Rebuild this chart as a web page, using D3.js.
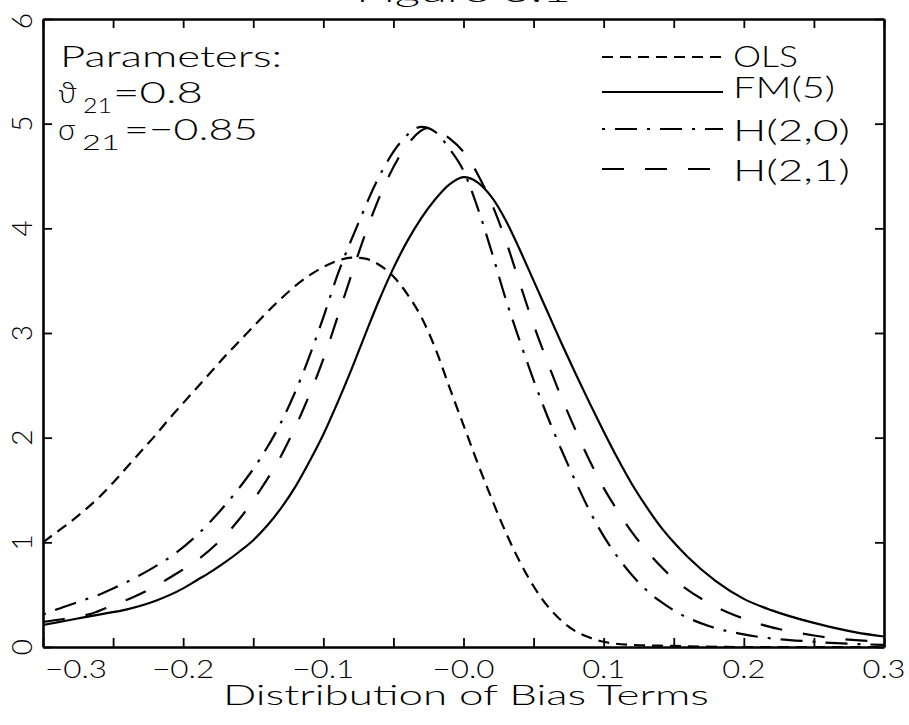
<!DOCTYPE html>
<html>
<head>
<meta charset="utf-8">
<script src="https://cdn.jsdelivr.net/npm/d3@7"></script>
<style>
  body { margin: 0; background: #fff; }
  svg { display: block; background: #fff; }
  text { font-family: "Lato", "Liberation Sans", "DejaVu Sans", sans-serif; font-weight: 300; fill: #000; }
</style>
</head>
<body>
<svg width="909" height="725"></svg>
<script>

// densities, [bias, density]
var olsPts = [[-0.3, 1.0], [-0.29, 1.1], [-0.28, 1.2], [-0.27, 1.31], [-0.26, 1.43], [-0.25, 1.57], [-0.24, 1.72],
    [-0.23, 1.87], [-0.22, 2.02], [-0.21, 2.18], [-0.2, 2.33], [-0.19, 2.48], [-0.18, 2.63], [-0.17, 2.78],
    [-0.16, 2.92], [-0.15, 3.06], [-0.14, 3.2], [-0.13, 3.33], [-0.12, 3.45], [-0.11, 3.55], [-0.1, 3.63],
    [-0.09, 3.69], [-0.08, 3.72], [-0.07, 3.71], [-0.06, 3.65], [-0.05, 3.54], [-0.04, 3.37], [-0.03, 3.15],
    [-0.02, 2.85], [-0.01, 2.48], [0.0, 2.12], [0.01, 1.76], [0.02, 1.42], [0.03, 1.1], [0.04, 0.82],
    [0.05, 0.58], [0.06, 0.39], [0.07, 0.25], [0.08, 0.15], [0.09, 0.09], [0.1, 0.05], [0.12, 0.02],
    [0.15, 0.01], [0.2, 0.0], [0.3, 0.0]];

var fmPts = [[-0.3, 0.21], [-0.28, 0.26], [-0.26, 0.31], [-0.24, 0.36], [-0.22, 0.44], [-0.2, 0.56],
    [-0.19, 0.64], [-0.18, 0.72], [-0.17, 0.81], [-0.16, 0.91], [-0.15, 1.02], [-0.14, 1.16], [-0.13, 1.33],
    [-0.12, 1.53], [-0.11, 1.77], [-0.1, 2.03], [-0.09, 2.33], [-0.08, 2.65], [-0.07, 2.99], [-0.06, 3.32],
    [-0.05, 3.62], [-0.04, 3.88], [-0.03, 4.1], [-0.02, 4.28], [-0.01, 4.42], [0.0, 4.49], [0.01, 4.44],
    [0.02, 4.3], [0.03, 4.08], [0.04, 3.8], [0.05, 3.5], [0.06, 3.2], [0.07, 2.9], [0.08, 2.61], [0.09, 2.33],
    [0.1, 2.06], [0.11, 1.8], [0.12, 1.56], [0.13, 1.35], [0.14, 1.16], [0.15, 1.0], [0.16, 0.86],
    [0.18, 0.63], [0.2, 0.46], [0.22, 0.35], [0.25, 0.23], [0.28, 0.14], [0.3, 0.1]];

var h20Pts = [[-0.3, 0.31], [-0.29, 0.36], [-0.275, 0.43], [-0.26, 0.5], [-0.245, 0.59], [-0.225, 0.73],
    [-0.205, 0.9], [-0.19, 1.07], [-0.175, 1.28], [-0.16, 1.52], [-0.145, 1.8], [-0.13, 2.15],
    [-0.115, 2.6], [-0.1, 3.15], [-0.09, 3.55], [-0.075, 4.05], [-0.06, 4.5], [-0.045, 4.82], [-0.03, 4.97],
    [-0.02, 4.92], [-0.01, 4.76], [0.0, 4.55], [0.01, 4.2], [0.02, 3.78], [0.03, 3.33], [0.04, 2.93],
    [0.05, 2.55], [0.06, 2.2], [0.07, 1.88], [0.08, 1.58], [0.09, 1.3], [0.1, 1.06], [0.11, 0.86],
    [0.12, 0.69], [0.13, 0.55], [0.14, 0.44], [0.15, 0.35], [0.175, 0.2], [0.2, 0.12], [0.25, 0.05],
    [0.3, 0.02]];

var h21Pts = [[-0.3, 0.24], [-0.28, 0.28], [-0.265, 0.32], [-0.25, 0.4], [-0.235, 0.48], [-0.22, 0.58],
    [-0.205, 0.7], [-0.19, 0.83], [-0.175, 1.0], [-0.16, 1.22], [-0.145, 1.5], [-0.13, 1.83], [-0.115, 2.25],
    [-0.1, 2.75], [-0.085, 3.35], [-0.07, 3.95], [-0.055, 4.45], [-0.04, 4.8], [-0.025, 4.96], [-0.01, 4.86],
    [0.0, 4.73], [0.01, 4.52], [0.02, 4.24], [0.03, 3.89], [0.04, 3.48], [0.05, 3.08], [0.06, 2.72],
    [0.07, 2.38], [0.08, 2.07], [0.09, 1.78], [0.1, 1.52], [0.11, 1.3], [0.12, 1.1], [0.13, 0.93],
    [0.14, 0.78], [0.15, 0.65], [0.175, 0.42], [0.2, 0.27], [0.25, 0.11], [0.3, 0.05]];

var seriesNames = ["OLS", "FM(5)", "H(2,0)", "H(2,1)"];

var xTickValues = [-0.3, -0.2, -0.1, 0.0, 0.1, 0.2, 0.3];
var xTickLabels = ["\u22120.3", "\u22120.2", "\u22120.1", "\u22120.0", "0.1", "0.2", "0.3"];
var yTickValues = [0, 1, 2, 3, 4, 5, 6];
var yTickLabels = ["0", "1", "2", "3", "4", "5", "6"];

// plot frame (window.top is taken, so no plain "top")
var plotLeft = 43, plotRight = 884, plotTop = 19, plotBottom = 647;

var svg = d3.select("svg");

var x = d3.scaleLinear().domain([-0.3, 0.3]).range([plotLeft, plotRight]);
var y = d3.scaleLinear().domain([0, 6]).range([plotBottom, plotTop]);

var dashes = ["11,7", null, "3,10,22,10", "22,21"];

svg.append("defs").append("clipPath")
    .attr("id", "plotClip")
    .append("rect")
    .attr("x", plotLeft).attr("y", plotTop)
    .attr("width", plotRight - plotLeft).attr("height", plotBottom - plotTop);

// title sits mostly above the page edge, only its foot shows
svg.append("text")
    .attr("x", (plotLeft + plotRight) / 2)
    .attr("y", 2)
    .attr("text-anchor", "middle")
    .attr("font-size", 30)
    .attr("textLength", 215)
    .attr("lengthAdjust", "spacingAndGlyphs")
    .text("Figure 3.1");

var line = d3.line()
    .x(function (d) { return x(d[0]); })
    .y(function (d) { return y(d[1]); })
    .curve(d3.curveMonotoneX);

var allSeries = [olsPts, fmPts, h20Pts, h21Pts];

svg.append("g")
    .attr("clip-path", "url(#plotClip)")
    .selectAll("path")
    .data(allSeries)
    .enter()
    .append("path")
    .attr("d", line)
    .attr("fill", "none")
    .attr("stroke", "#000")
    .attr("stroke-width", 2.2)
    .attr("stroke-dasharray", function (d, i) { return dashes[i]; });

// ticks every 0.05 on x, inward on all four sides
var xMinor = d3.range(-6, 7).map(function (k) { return k * 0.05; });

function styleAxis(g) {
    g.selectAll("text").remove();
    g.select(".domain").attr("stroke-width", 2.6);
    g.selectAll(".tick line").attr("stroke-width", 1.8);
}

svg.append("g")
    .attr("transform", "translate(0," + plotBottom + ")")
    .call(d3.axisBottom(x).tickValues(xMinor).tickSize(-9).tickSizeOuter(0))
    .call(styleAxis);

svg.append("g")
    .attr("transform", "translate(0," + plotTop + ")")
    .call(d3.axisTop(x).tickValues(xMinor).tickSize(-9).tickSizeOuter(0))
    .call(styleAxis);

svg.append("g")
    .attr("transform", "translate(" + plotLeft + ",0)")
    .call(d3.axisLeft(y).tickValues(yTickValues).tickSize(-9).tickSizeOuter(0))
    .call(styleAxis);

svg.append("g")
    .attr("transform", "translate(" + plotRight + ",0)")
    .call(d3.axisRight(y).tickValues(yTickValues).tickSize(-9).tickSizeOuter(0))
    .call(styleAxis);

// x tick labels
svg.append("g")
    .selectAll("text")
    .data(xTickValues)
    .enter()
    .append("text")
    .attr("x", function (d, i) { return i === 0 ? plotLeft + 2 : x(d); })
    .attr("y", 678)
    .attr("text-anchor", function (d, i) { return i === 0 ? "start" : "middle"; })
    .attr("font-size", 25)
    .attr("textLength", function (d, i) { return xTickLabels[i].charAt(0) === "\u2212" ? 62 : 43; })
    .attr("lengthAdjust", "spacingAndGlyphs")
    .text(function (d, i) { return xTickLabels[i]; });

// y tick labels, turned on their side
svg.append("g")
    .selectAll("text")
    .data(yTickValues)
    .enter()
    .append("text")
    .attr("transform", function (d) { return "translate(32," + (d === 6 ? y(d) + 2 : y(d)) + ") rotate(-90)"; })
    .attr("text-anchor", "middle")
    .attr("font-size", 28)
    .text(function (d, i) { return yTickLabels[i]; });

svg.append("text")
    .attr("x", 466)
    .attr("y", 705)
    .attr("text-anchor", "middle")
    .attr("font-size", 27)
    .attr("textLength", 486)
    .attr("lengthAdjust", "spacingAndGlyphs")
    .text("Distribution of Bias Terms");

// parameter block
var params = svg.append("g");

params.append("text")
    .attr("x", 60).attr("y", 67)
    .attr("font-size", 30)
    .attr("textLength", 222)
    .attr("lengthAdjust", "spacingAndGlyphs")
    .text("Parameters:");

params.append("text").attr("x", 58).attr("y", 103).attr("font-size", 30).text("\u03d1");
params.append("text").attr("x", 83).attr("y", 113).attr("font-size", 22)
    .attr("textLength", 29).attr("lengthAdjust", "spacingAndGlyphs").text("21");
params.append("text").attr("x", 113).attr("y", 103).attr("font-size", 30)
    .attr("textLength", 90).attr("lengthAdjust", "spacingAndGlyphs").text("=0.8");

params.append("text").attr("x", 58).attr("y", 140).attr("font-size", 30).text("\u03c3");
params.append("text").attr("x", 82).attr("y", 150).attr("font-size", 22)
    .attr("textLength", 38).attr("lengthAdjust", "spacingAndGlyphs").text("21");
params.append("text").attr("x", 124).attr("y", 140).attr("font-size", 30)
    .attr("textLength", 134).attr("lengthAdjust", "spacingAndGlyphs").text("=\u22120.85");

// legend
var legendRows = [
    { base: 67, lineY: 57, width: 65 },
    { base: 98, lineY: 92, width: 102 },
    { base: 141, lineY: 129, width: 117 },
    { base: 181, lineY: 169, width: 117 }
];

var legend = svg.append("g")
    .selectAll("g")
    .data(seriesNames)
    .enter()
    .append("g");

legend.append("line")
    .attr("x1", 602).attr("x2", 723)
    .attr("y1", function (d, i) { return legendRows[i].lineY; })
    .attr("y2", function (d, i) { return legendRows[i].lineY; })
    .attr("stroke", "#000")
    .attr("stroke-width", 2.2)
    .attr("stroke-dasharray", function (d, i) { return dashes[i]; });

legend.append("text")
    .attr("x", 733)
    .attr("y", function (d, i) { return legendRows[i].base; })
    .attr("font-size", 30)
    .attr("textLength", function (d, i) { return legendRows[i].width; })
    .attr("lengthAdjust", "spacingAndGlyphs")
    .text(function (d) { return d; });

</script>
</body>
</html>
